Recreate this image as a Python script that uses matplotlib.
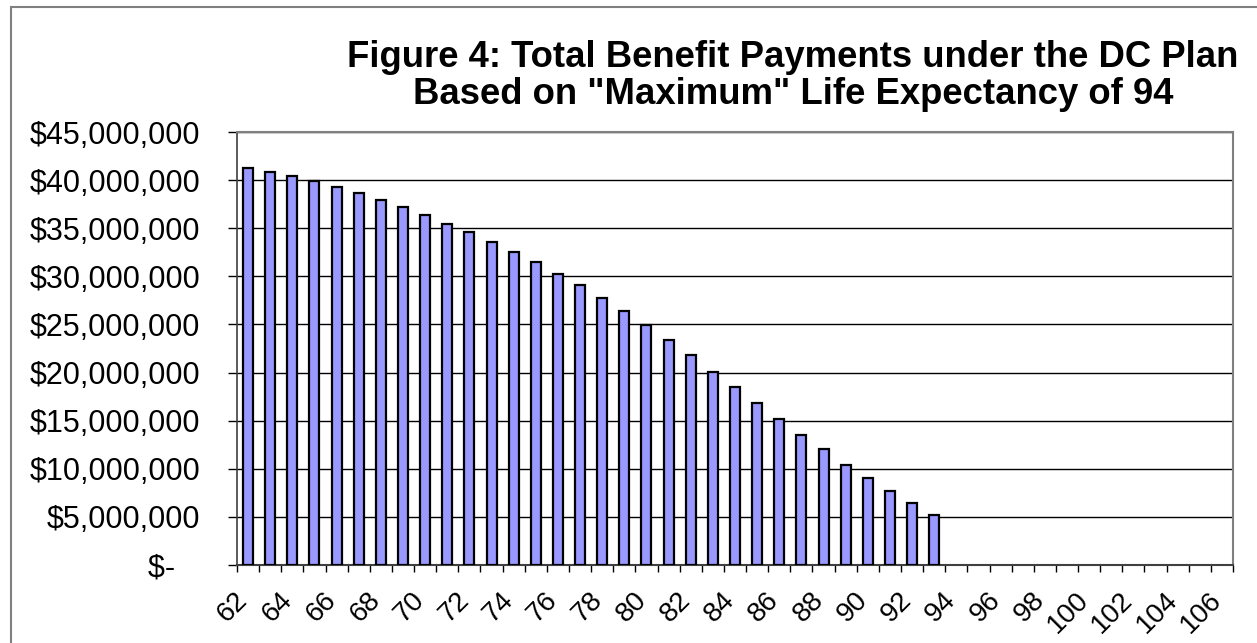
import matplotlib.pyplot as plt
import matplotlib.patches as patches
import matplotlib.transforms as mtransforms
from matplotlib.ticker import FuncFormatter, MultipleLocator
import numpy as np

plt.rcParams['font.family'] = ['Liberation Sans', 'DejaVu Sans']

# ages on the category axis
ages = list(range(62, 107))
# total benefit payments, $ millions, ages 62..93 (no payments after 93)
payments = [41.26, 40.84, 40.38, 39.87, 39.24, 38.69, 37.97, 37.21, 36.38, 35.48,
            34.58, 33.58, 32.57, 31.46, 30.29, 29.12, 27.73, 26.35, 24.90, 23.40,
            21.78, 20.09, 18.46, 16.80, 15.15, 13.52, 12.03, 10.44, 9.02, 7.64,
            6.40, 5.22]
payments = payments + [0.0] * (len(ages) - len(payments))

title = 'Figure 4: Total Benefit Payments under the DC Plan\nBased on "Maximum" Life Expectancy of 94'

fig = plt.figure(figsize=(12.57, 6.43), dpi=100)
ax = fig.add_axes([237 / 1257, 78 / 643, 996 / 1257, 433 / 643])

x = np.arange(len(ages))
vals = np.array(payments) * 1e6
shown = vals > 0
ax.bar(x[shown], vals[shown], width=0.45, color='#9999FF', edgecolor='black',
       linewidth=1.6, zorder=3)

ax.set_xlim(-0.5, len(ages) - 0.5)
ax.set_ylim(0, 45e6)
ax.yaxis.set_major_locator(MultipleLocator(5e6))

def money(v, pos):
    if v == 0:
        return '$-   '
    return '${:,.0f}'.format(v)

ax.yaxis.set_major_formatter(FuncFormatter(money))
ax.grid(axis='y', color='black', linewidth=1.0, zorder=1)

# labels on every other age, ticks on category boundaries
ax.set_xticks(x[::2])
ax.set_xticklabels([str(a) for a in ages[::2]], rotation=45, ha='right')
ax.set_xticks(np.arange(-0.5, len(ages)), minor=True)
ax.tick_params(axis='x', which='major', length=0, pad=16, labelsize=20)
ax.tick_params(axis='x', which='minor', length=5, width=1.0, color='black')
ax.tick_params(axis='y', length=6.5, width=1.0, color='black', pad=20, labelsize=22)
shift = mtransforms.ScaledTranslation(5 / 100, 0, fig.dpi_scale_trans)
for lbl in ax.get_xticklabels():
    lbl.set_transform(lbl.get_transform() + shift)

for side in ['top', 'right']:
    ax.spines[side].set_color('#808080')
    ax.spines[side].set_linewidth(1.5)
ax.spines['left'].set_color('#404040')
ax.spines['bottom'].set_color('#404040')
ax.spines['left'].set_linewidth(1.2)
ax.spines['bottom'].set_linewidth(1.5)

fig.text(793 / 1257, 1 - 40 / 643, title, ha='center', va='top', fontsize=26.3,
         fontweight='bold', linespacing=1.08)

border = patches.Rectangle((11 / 1257, -0.1), 1.2, 1.1 - 7 / 643,
                           transform=fig.transFigure, fill=False,
                           edgecolor='#808080', linewidth=1.5)
fig.patches.append(border)

fig.savefig('out.png', dpi=100)
